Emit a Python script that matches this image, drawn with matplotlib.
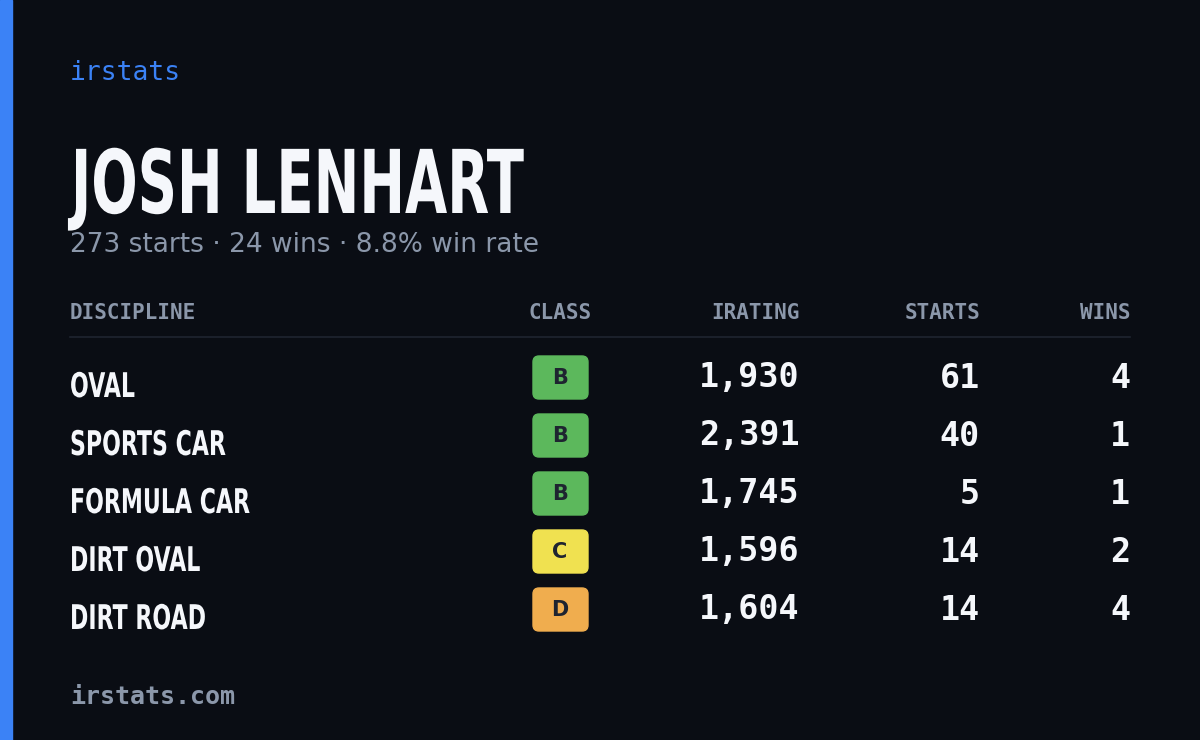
import matplotlib.pyplot as plt
from matplotlib.patches import Rectangle, FancyBboxPatch, PathPatch
from matplotlib.textpath import TextPath
from matplotlib.font_manager import FontProperties
from matplotlib.transforms import Affine2D

disciplines = ["OVAL", "SPORTS CAR", "FORMULA CAR", "DIRT OVAL", "DIRT ROAD"]
classes = ["B", "B", "B", "C", "D"]
iratings = [1930, 2391, 1745, 1596, 1604]
starts = [61, 40, 5, 14, 14]
wins = [4, 1, 1, 2, 4]
headers = ["DISCIPLINE", "CLASS", "IRATING", "STARTS", "WINS"]
class_colors = {"B": "#5cb85c", "C": "#f0e150", "D": "#f0ad4e"}

bg = "#0a0d14"
gray = "#8b97aa"
white = "#f5f7fb"
mono = "DejaVu Sans Mono"
boldprop = FontProperties(family="DejaVu Sans", weight="bold")

fig = plt.figure(figsize=(12, 7.4), dpi=100, facecolor=bg)
ax = fig.add_axes([0, 0, 1, 1])
ax.set_xlim(0, 1200)
ax.set_ylim(740, 0)
ax.axis("off")
ax.set_facecolor(bg)


def narrow_text(s, x, baseline, size, xscale):
    # condensed look: squeeze a bold text path horizontally
    tp = TextPath((0, 0), s, size=1, prop=boldprop)
    tr = Affine2D().scale(size * xscale, -size).translate(x, baseline) + ax.transData
    ax.add_patch(PathPatch(tp, transform=tr, facecolor=white, edgecolor="none"))


ax.add_patch(Rectangle((0, 0), 12, 740, color="#3b82f6"))
ax.text(70, 73, "irstats", color="#3b82f6", fontsize=19, family=mono, va="center")
narrow_text("JOSH LENHART", 71, 213, 88, 0.62)
ax.text(70, 245, "273 starts · 24 wins · 8.8% win rate", color=gray, fontsize=19, va="center")

hx = [70, 560, 800, 980, 1130]
ha = ["left", "center", "right", "right", "right"]
for h, x, a in zip(headers, hx, ha):
    ax.text(x, 313, h, color=gray, fontsize=15, family=mono, weight="bold", ha=a, va="center")
ax.plot([70, 1130], [337, 337], color="#1f2430", lw=1.2)

for i, name in enumerate(disciplines):
    y = 378 + i * 58
    narrow_text(name, 70, y + 19, 34, 0.65)
    c = classes[i]
    ax.add_patch(FancyBboxPatch((534, y - 21), 53, 41, boxstyle="round,pad=1,rounding_size=6",
                                color=class_colors[c]))
    ax.text(560, y, c, color="#1e2430", fontsize=15, weight="bold", ha="center", va="center")
    for val, x in ((f"{iratings[i]:,}", 800), (str(starts[i]), 980), (str(wins[i]), 1130)):
        ax.text(x, y, val, color=white, fontsize=24, family=mono, weight="bold",
                ha="right", va="center")

ax.text(70, 697, "irstats.com", color=gray, fontsize=18, family=mono, weight="bold", va="center")

fig.savefig("out.png", dpi=100, facecolor=bg)
